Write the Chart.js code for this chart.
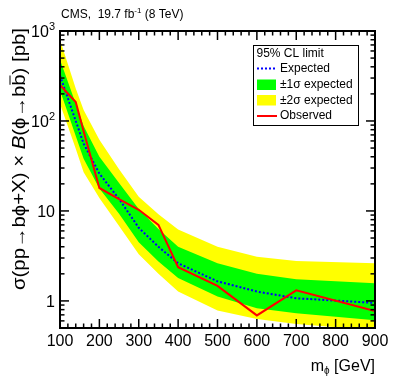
<!DOCTYPE html>
<html>
<head>
<meta charset="utf-8">
<script src="https://cdn.jsdelivr.net/npm/chart.js@4.4.1/dist/chart.umd.min.js"></script>
<style>
  html, body { margin: 0; padding: 0; background: #fff; }
  #wrap { width: 399px; height: 379px; }
</style>
</head>
<body>
<div id="wrap"><canvas id="limitChart" width="399" height="379"></canvas></div>
<script>
// mass points [GeV]
const masses = [100, 140, 160, 200, 250, 300, 350, 400, 500, 600, 700, 900];

// 95% CL limits [pb]
const observed = [251, 162, 77, 18, 13.5, 10.3, 7.0, 2.37, 1.47, 0.69, 1.31, 0.77];
const expected = [320, 100, 56, 26, 13.6, 6.5, 4.0, 2.62, 1.65, 1.27, 1.07, 0.95];
const plus1s   = [480, 155, 88, 40, 20.5, 10.5, 6.3, 4.0, 2.62, 2.0, 1.74, 1.57];
const minus1s  = [220, 68, 38, 17.8, 9.3, 4.5, 2.75, 1.80, 1.12, 0.83, 0.73, 0.61];
const plus2s   = [800, 230, 132, 62, 29, 14.4, 9.2, 6.2, 4.0, 3.1, 2.78, 2.62];
const minus2s  = [155, 49, 27, 13.9, 6.8, 3.3, 2.0, 1.27, 0.78, 0.63, 0.555, 0.47];

// axis ticks
const xTicks = [100, 200, 300, 400, 500, 600, 700, 800, 900];
const yTicks = [1, 10, 100, 1000];
const yTickLabels = [['1', ''], ['10', ''], ['10', '2'], ['10', '3']];

const FONT = '"Liberation Sans", Arial, Helvetica, sans-serif';

function pts(ys) {
  return masses.map((m, i) => ({ x: m, y: ys[i] }));
}

// ROOT-style frame, inner ticks, labels, titles and legend
const rootStyle = {
  id: 'rootStyle',
  afterDraw(chart) {
    const { ctx, chartArea: a, scales } = chart;
    const sx = scales.x, sy = scales.y;
    ctx.save();
    ctx.strokeStyle = '#000';
    ctx.fillStyle = '#000';

    function seg(x1, y1, x2, y2) {
      ctx.beginPath(); ctx.moveTo(x1, y1); ctx.lineTo(x2, y2); ctx.stroke();
    }

    // x ticks (bottom + top)
    ctx.lineWidth = 1.5;
    for (let v = 100; v <= 900; v += 20) {
      const px = sx.getPixelForValue(v);
      const len = v % 100 === 0 ? 9 : 4.5;
      seg(px, a.bottom, px, a.bottom - len);
      seg(px, a.top, px, a.top + len);
    }
    // y ticks (left + right)
    [0.1, 1, 10, 100].forEach(d => {
      for (let k = 1; k <= 9; k++) {
        const v = k * d;
        if (v < 0.5 || v > 1000) continue;
        const py = sy.getPixelForValue(v);
        const len = k === 1 ? 9 : 4.5;
        seg(a.left, py, a.left + len, py);
        seg(a.right, py, a.right - len, py);
      }
    });
    seg(a.left, sy.getPixelForValue(1000), a.left + 9, sy.getPixelForValue(1000));

    // frame
    ctx.lineWidth = 2;
    ctx.strokeRect(a.left, a.top, a.right - a.left, a.bottom - a.top);

    // x tick labels
    ctx.font = '16px ' + FONT;
    ctx.textAlign = 'center';
    ctx.textBaseline = 'alphabetic';
    xTicks.forEach(v => ctx.fillText(String(v), sx.getPixelForValue(v), a.bottom + 18));

    // y tick labels
    yTicks.forEach((v, i) => {
      const [base, sup] = yTickLabels[i];
      const py = sy.getPixelForValue(v);
      const right = a.left - 5;
      ctx.font = '11px ' + FONT;
      const sw = sup ? ctx.measureText(sup).width : 0;
      if (sup) {
        ctx.textAlign = 'right';
        ctx.fillText(sup, right, py - 1);
      }
      ctx.font = '16px ' + FONT;
      ctx.textAlign = 'right';
      ctx.fillText(base, right - sw, py + 6);
    });

    // top title
    ctx.textAlign = 'left';
    let tx = a.left + 1;
    ctx.font = '12px ' + FONT;
    ctx.fillText('CMS,  19.7 fb', tx, 18);
    tx += ctx.measureText('CMS,  19.7 fb').width;
    ctx.font = '8px ' + FONT;
    ctx.fillText('-1', tx, 13);
    tx += ctx.measureText('-1').width;
    ctx.font = '12px ' + FONT;
    ctx.fillText(' (8 TeV)', tx, 18);

    // x axis title
    const xt1 = 'm', xt2 = '\u03d5', xt3 = ' [GeV]';
    ctx.font = '16px ' + FONT;
    const w1 = ctx.measureText(xt1).width, w3 = ctx.measureText(xt3).width;
    ctx.font = '10px ' + FONT;
    const w2 = ctx.measureText(xt2).width;
    let xx = a.right - (w1 + w2 + w3);
    ctx.font = '16px ' + FONT;
    ctx.fillText(xt1, xx, 371);
    ctx.font = '10px ' + FONT;
    ctx.fillText(xt2, xx + w1, 374);
    ctx.font = '16px ' + FONT;
    ctx.fillText(xt3, xx + w1 + w2, 371);

    // y axis title (rotated, right-aligned at top, spans y 28..290)
    const parts = [
      ['\u03c3(pp\u2192b\u03d5+X) \u00d7 ', 'normal'],
      ['B', 'italic'],
      ['(\u03d5\u2192b', 'normal'],
      ['b', 'bar'],
      [') [pb]', 'normal']
    ];
    const ysz = 18;
    let total = 0;
    parts.forEach(p => {
      ctx.font = (p[1] === 'italic' ? 'italic ' : '') + ysz + 'px ' + FONT;
      p.w = ctx.measureText(p[0]).width;
      total += p.w;
    });
    const stretch = 262 / total;
    ctx.save();
    ctx.translate(25, 28);
    ctx.rotate(-Math.PI / 2);
    ctx.scale(stretch, 1);
    let px0 = -total;
    parts.forEach(p => {
      ctx.font = (p[1] === 'italic' ? 'italic ' : '') + ysz + 'px ' + FONT;
      ctx.fillText(p[0], px0, 0);
      if (p[1] === 'bar') {
        ctx.lineWidth = 1;
        seg(px0 + 1, -15, px0 + p.w - 1, -15);
      }
      px0 += p.w;
    });
    ctx.restore();

    // legend
    ctx.lineWidth = 1;
    ctx.strokeStyle = '#000';
    ctx.strokeRect(253.5, 45.5, 105, 80);
    ctx.font = '12px ' + FONT;
    ctx.textBaseline = 'middle';
    ctx.fillStyle = '#000';
    ctx.fillText('95% CL limit', 256.5, 53.5);
    ctx.fillText('Expected', 280, 68.5);
    ctx.fillText('\u00b11\u03c3 expected', 280, 85);
    ctx.fillText('\u00b12\u03c3 expected', 280, 100.5);
    ctx.fillText('Observed', 280, 116);
    ctx.fillStyle = '#00ff00';
    ctx.fillRect(257, 79.5, 19, 10.5);
    ctx.fillStyle = '#ffff00';
    ctx.fillRect(257, 95, 19, 10.5);
    ctx.strokeStyle = '#0000ff';
    ctx.lineWidth = 2;
    ctx.setLineDash([2, 2]);
    seg(257, 68.5, 277, 68.5);
    ctx.setLineDash([]);
    ctx.strokeStyle = '#ff0000';
    seg(257, 116, 277, 116);

    ctx.restore();
  }
};

const chart = new Chart(document.getElementById('limitChart').getContext('2d'), {
  type: 'line',
  data: {
    datasets: [
      { label: 'Observed', data: pts(observed), borderColor: '#ff0000', borderWidth: 2,
        pointRadius: 0, fill: false, tension: 0, order: 0 },
      { label: 'Expected', data: pts(expected), borderColor: '#0000ff', borderWidth: 2,
        borderDash: [2, 2], pointRadius: 0, fill: false, tension: 0, order: 1 },
      { label: '+1 sigma', data: pts(plus1s), borderColor: 'rgba(0,0,0,0)', borderWidth: 0,
        backgroundColor: '#00ff00', pointRadius: 0, fill: { target: 3 }, order: 2 },
      { label: '-1 sigma', data: pts(minus1s), borderColor: 'rgba(0,0,0,0)', borderWidth: 0,
        pointRadius: 0, fill: false, order: 3 },
      { label: '+2 sigma', data: pts(plus2s), borderColor: 'rgba(0,0,0,0)', borderWidth: 0,
        backgroundColor: '#ffff00', pointRadius: 0, fill: { target: 5 }, order: 4 },
      { label: '-2 sigma', data: pts(minus2s), borderColor: 'rgba(0,0,0,0)', borderWidth: 0,
        pointRadius: 0, fill: false, order: 5 }
    ]
  },
  options: {
    responsive: false,
    animation: false,
    layout: { padding: { left: 60, right: 24, top: 31, bottom: 51 } },
    plugins: {
      legend: { display: false },
      tooltip: { enabled: false }
    },
    scales: {
      x: { type: 'linear', min: 100, max: 900, display: false },
      y: { type: 'logarithmic', min: 0.5, max: 1000, display: false }
    }
  },
  plugins: [rootStyle]
});
</script>
</body>
</html>
